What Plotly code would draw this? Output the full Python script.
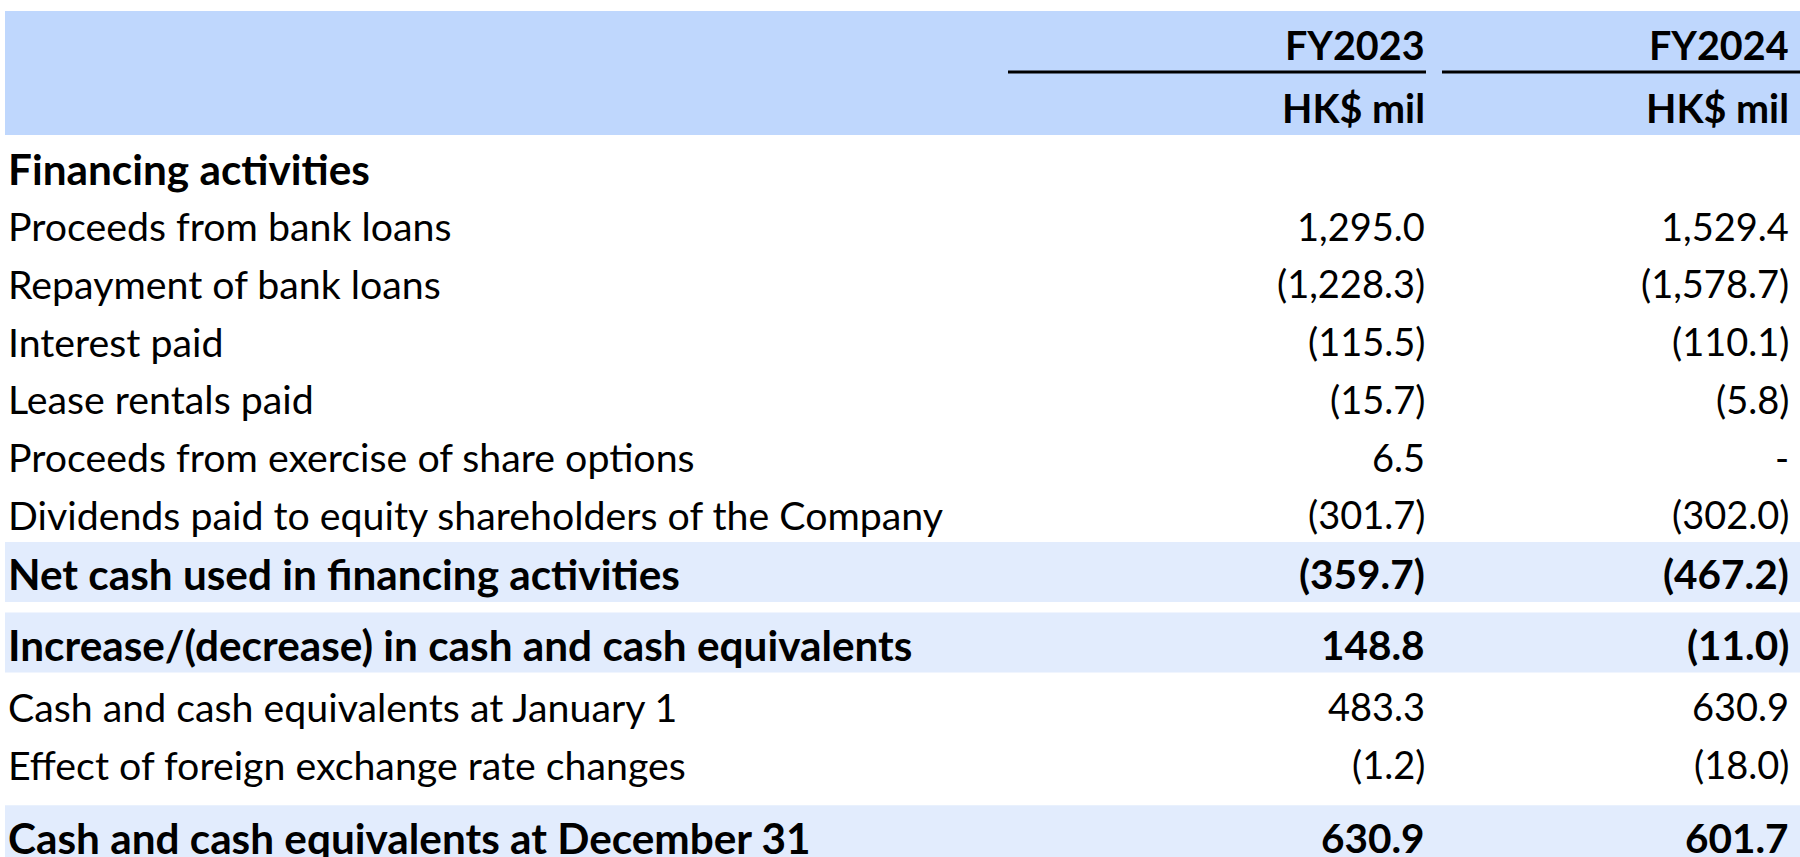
import plotly.graph_objects as go

# ---- data ----
columns = ["FY2023", "FY2024"]
units = ["HK$ mil", "HK$ mil"]
row_labels = [
    "Financing activities",
    "Proceeds from bank loans",
    "Repayment of bank loans",
    "Interest paid",
    "Lease rentals paid",
    "Proceeds from exercise of share options",
    "Dividends paid to equity shareholders of the Company",
    "Net cash used in financing activities",
    "Increase/(decrease) in cash and cash equivalents",
    "Cash and cash equivalents at January 1",
    "Effect of foreign exchange rate changes",
    "Cash and cash equivalents at December 31",
]
fy2023 = [None, 1295.0, -1228.3, -115.5, -15.7, 6.5, -301.7, -359.7, 148.8, 483.3, -1.2, 630.9]
fy2024 = [None, 1529.4, -1578.7, -110.1, -5.8, 0.0, -302.0, -467.2, -11.0, 630.9, -18.0, 601.7]
bold_rows = [True, False, False, False, False, False, False, True, True, False, False, True]
shaded_rows = [False, False, False, False, False, False, False, True, True, False, False, True]

# ---- layout / style constants ----
W, H = 1800, 857
FONT = "Lato"
FS_LABEL, FS_LABEL_B = 39.3, 42.3
FS_NUM, FS_NUM_B = 38, 40.5
FS_HEAD = 39.5
HEADER_BG = "#BFD7FD"
ROW_BG = "#E2ECFD"
col_right = [1427, 1791]
line_spans = [(1008, 1426), (1442, 1800)]
label_x = 6
row_pitch = 57.7
first_row_y = 168
gap_before = [0, 0, 0, 0, 0, 0, 0, 2, 13, 4, 0, 15.5]
band_above, band_below = 32, 28


def fmt(v):
    if v is None:
        return ""
    if v == 0:
        return "-"
    s = f"{abs(v):,.1f}"
    return f"({s})" if v < 0 else s


row_y = []
y = first_row_y
for i in range(len(row_labels)):
    if i > 0:
        y += row_pitch + gap_before[i]
    row_y.append(y)

fig = go.Figure()
shapes = [dict(type="rect", xref="x", yref="y", x0=5, x1=W, y0=11, y1=135,
               fillcolor=HEADER_BG, line=dict(width=0), layer="below")]
for i, sh in enumerate(shaded_rows):
    if sh:
        shapes.append(dict(type="rect", xref="x", yref="y", x0=5, x1=W,
                           y0=row_y[i] - band_above, y1=row_y[i] + band_below,
                           fillcolor=ROW_BG, line=dict(width=0), layer="below"))
for (a, b) in line_spans:
    shapes.append(dict(type="line", xref="x", yref="y", x0=a, x1=b, y0=72, y1=72,
                       line=dict(color="black", width=3)))

ann = []
for j, c in enumerate(columns):
    ann.append(dict(x=col_right[j], y=44, text=f"<b>{c}</b>", xanchor="right", yanchor="middle",
                    showarrow=False, font=dict(family=FONT, size=FS_HEAD, color="black")))
    ann.append(dict(x=col_right[j], y=107, text=f"<b>{units[j]}</b>", xanchor="right", yanchor="middle",
                    showarrow=False, font=dict(family=FONT, size=FS_HEAD, color="black")))

for i, lab in enumerate(row_labels):
    b = bold_rows[i]
    ann.append(dict(x=label_x, y=row_y[i], text=f"<b>{lab}</b>" if b else lab,
                    xanchor="left", yanchor="middle", showarrow=False,
                    font=dict(family=FONT, size=FS_LABEL_B if b else FS_LABEL, color="black")))
    for j, vals in enumerate([fy2023, fy2024]):
        s = fmt(vals[i])
        if s:
            ann.append(dict(x=col_right[j], y=row_y[i], text=f"<b>{s}</b>" if b else s,
                            xanchor="right", yanchor="middle", showarrow=False,
                            font=dict(family=FONT, size=FS_NUM_B if b else FS_NUM, color="black")))

fig.update_layout(
    width=W, height=H, margin=dict(l=0, r=0, t=0, b=0),
    paper_bgcolor="white", plot_bgcolor="white",
    xaxis=dict(range=[0, W], visible=False, fixedrange=True),
    yaxis=dict(range=[H, 0], visible=False, fixedrange=True),
    shapes=shapes, annotations=ann, showlegend=False,
)
fig.write_html("out.html", config={"displayModeBar": False},
               post_script="document.body.style.margin='0';document.body.style.overflow='hidden';")
